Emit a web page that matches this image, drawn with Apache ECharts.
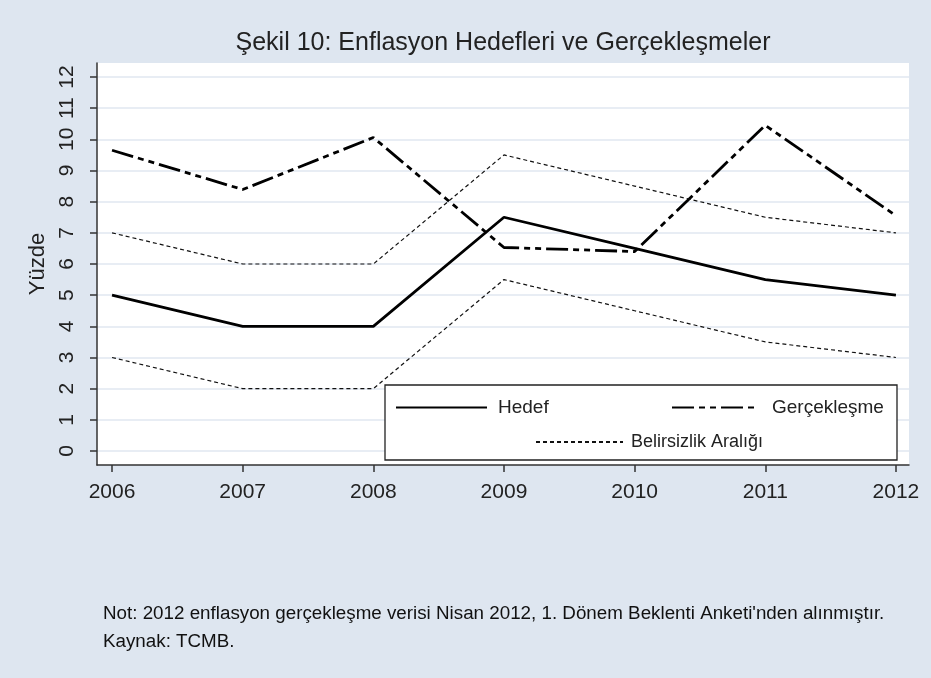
<!DOCTYPE html>
<html>
<head>
<meta charset="utf-8">
<script src="https://cdn.jsdelivr.net/npm/echarts@6/dist/echarts.min.js"></script>
<style>
  html, body { margin: 0; padding: 0; background: #dee6f0; }
  #chart { width: 931px; height: 678px; }
</style>
</head>
<body>
<div id="chart"></div>
<script>
// veriler
var years = [2006, 2007, 2008, 2009, 2010, 2011, 2012];
var hedef = [5, 4, 4, 7.5, 6.5, 5.5, 5];
var gerceklesme = [9.65, 8.39, 10.06, 6.53, 6.40, 10.45, 7.55];
var ustSinir = [7, 6, 6, 9.5, 8.5, 7.5, 7];
var altSinir = [3, 2, 2, 5.5, 4.5, 3.5, 3];
var yTicks = [0, 1, 2, 3, 4, 5, 6, 7, 8, 9, 10, 11, 12];

function pairs(vals) {
    return years.map(function (y, i) { return [y, vals[i]]; });
}

var FONT = 'Liberation Sans';
var chart = echarts.init(document.getElementById('chart'), null, { renderer: 'canvas' });

// legend ortak ayarlar
function legendItem(name, left, top, width, size, pad) {
    return {
        data: [name], left: left, top: top, z: 5,
        itemWidth: width, itemHeight: 14, padding: 0,
        itemStyle: { opacity: 0 },
        textStyle: { fontFamily: FONT, fontSize: size, color: '#222', padding: [0, 0, 0, pad] }
    };
}

var option = {
    backgroundColor: '#dee6f0',
    animation: false,
    title: [
        {
            text: 'Şekil 10: Enflasyon Hedefleri ve Gerçekleşmeler',
            left: 503, top: 31, textAlign: 'center', padding: 0,
            textStyle: { fontFamily: FONT, fontSize: 25, fontWeight: 'normal', color: '#222' }
        },
        {
            text: "Not: 2012 enflasyon gerçekleşme verisi Nisan 2012, 1. Dönem Beklenti Anketi'nden alınmıştır.\nKaynak: TCMB.",
            left: 103, top: 600, padding: 0,
            textStyle: { fontFamily: FONT, fontSize: 18.8, fontWeight: 'normal', color: '#111', lineHeight: 28 }
        }
    ],
    grid: {
        left: 97, right: 22, top: 63, bottom: 213,
        show: true, backgroundColor: '#ffffff', borderWidth: 0
    },
    xAxis: {
        type: 'value',
        min: 2005.885, max: 2012.1,
        axisLine: { onZero: false, lineStyle: { color: '#333', width: 1.5 } },
        axisTick: { customValues: years, length: 7, lineStyle: { color: '#333', width: 1.5 } },
        axisLabel: {
            customValues: years, margin: 17,
            fontFamily: FONT, fontSize: 21, color: '#222',
            formatter: function (v) { return String(v); }
        },
        splitLine: { show: false }
    },
    yAxis: {
        type: 'value',
        min: -0.45, max: 12.45,
        name: 'Yüzde', nameLocation: 'middle', nameGap: 41,
        nameTextStyle: { fontFamily: FONT, fontSize: 22, color: '#222' },
        axisLine: { show: true, onZero: false, lineStyle: { color: '#333', width: 1.5 } },
        axisTick: { show: true, customValues: yTicks, length: 7, lineStyle: { color: '#333', width: 1.5 } },
        axisLabel: {
            customValues: yTicks, rotate: 90, margin: 19,
            fontFamily: FONT, fontSize: 21, color: '#222'
        },
        splitLine: { show: true, lineStyle: { color: '#e0e7f0', width: 1.5 } }
    },
    legend: [
        legendItem('Hedef', 395, 398, 91, 19, 6),
        legendItem('Gerçekleşme', 671, 398, 87, 19, 8),
        legendItem('Belirsizlik Aralığı', 535, 433, 87, 18, 3)
    ],
    graphic: [
        {
            type: 'rect', z: 3,
            shape: { x: 385, y: 385, width: 512, height: 75 },
            style: { fill: '#ffffff', stroke: '#222', lineWidth: 1.3 }
        }
    ],
    series: [
        {
            name: 'Hedef', type: 'line', data: pairs(hedef),
            symbol: 'none', lineStyle: { color: '#000', width: 2.8, type: 'solid' },
            itemStyle: { color: '#000' }
        },
        {
            name: 'Gerçekleşme', type: 'line', data: pairs(gerceklesme),
            symbol: 'none', lineStyle: { color: '#000', width: 2.8, type: [22, 5, 6, 5, 6, 5] },
            itemStyle: { color: '#000' }
        },
        {
            name: 'Belirsizlik Aralığı', type: 'line', data: pairs(ustSinir),
            symbol: 'none', lineStyle: { color: '#111', width: 1.2, type: [4, 3] },
            itemStyle: { color: '#111' }
        },
        {
            name: 'Belirsizlik Aralığı', type: 'line', data: pairs(altSinir),
            symbol: 'none', lineStyle: { color: '#111', width: 1.2, type: [4, 3] },
            itemStyle: { color: '#111' }
        }
    ]
};

chart.setOption(option);
</script>
</body>
</html>
